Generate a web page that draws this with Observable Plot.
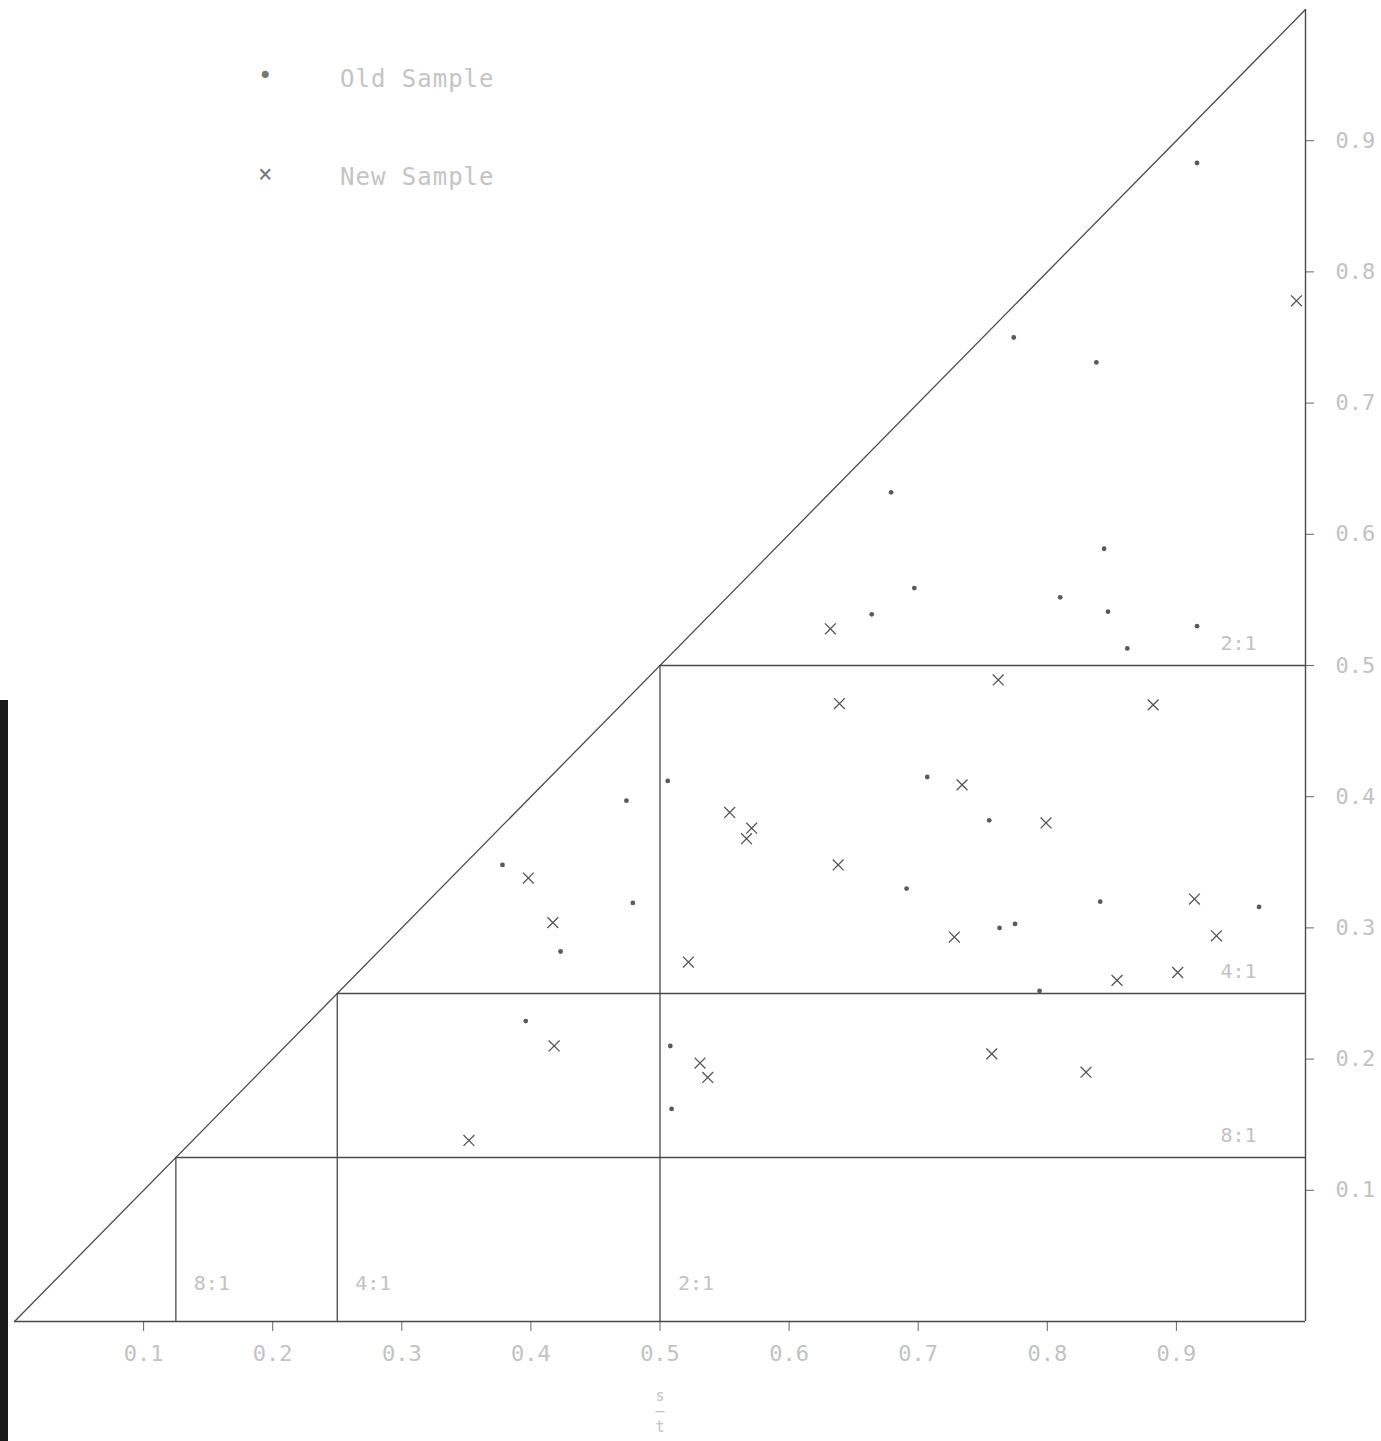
<!DOCTYPE html>
<html>
<head>
<meta charset="utf-8">
<script src="https://cdn.jsdelivr.net/npm/d3@7"></script>
<script src="https://cdn.jsdelivr.net/npm/@observablehq/plot@0.6"></script>
<style>
  html, body { margin: 0; padding: 0; background: #fff; }
  #wrap { position: relative; width: 1381px; height: 1441px; overflow: hidden; }
  .leg { position: absolute; font-family: "DejaVu Sans Mono", monospace; font-size: 24px; color: #c4c4c4; letter-spacing: 1px; }
  .scan { position: absolute; left: 0; top: 700px; width: 8px; height: 741px; background: #1a1a1a; }
</style>
</head>
<body>
<div id="wrap">
  <div class="scan"></div>
</div>
<script>
// ---- data ----
const oldX = [0.916, 0.774, 0.838, 0.679, 0.844, 0.697, 0.810, 0.664, 0.847, 0.916, 0.862,
              0.506, 0.474, 0.707, 0.755, 0.378, 0.691, 0.479, 0.841, 0.964, 0.423,
              0.763, 0.775, 0.794, 0.396, 0.508, 0.509];
const oldY = [0.883, 0.750, 0.731, 0.632, 0.589, 0.559, 0.552, 0.539, 0.541, 0.530, 0.513,
              0.412, 0.397, 0.415, 0.382, 0.348, 0.330, 0.319, 0.320, 0.316, 0.282,
              0.300, 0.303, 0.252, 0.229, 0.210, 0.162];
const newX = [0.993, 0.632, 0.639, 0.762, 0.882, 0.554, 0.571, 0.567, 0.734, 0.799, 0.638,
              0.398, 0.417, 0.728, 0.914, 0.931, 0.522, 0.854, 0.901, 0.418, 0.531,
              0.537, 0.757, 0.830, 0.352];
const newY = [0.778, 0.528, 0.471, 0.489, 0.470, 0.388, 0.376, 0.368, 0.409, 0.380, 0.348,
              0.338, 0.304, 0.293, 0.322, 0.294, 0.274, 0.260, 0.266, 0.210, 0.197,
              0.186, 0.204, 0.190, 0.138];
const cuts = [0.5, 0.25, 0.125];
const cutLabels = ["2:1", "4:1", "8:1"];
const xTicks = [0.1, 0.2, 0.3, 0.4, 0.5, 0.6, 0.7, 0.8, 0.9];
const yTicks = [0.1, 0.2, 0.3, 0.4, 0.5, 0.6, 0.7, 0.8, 0.9];
const legendLabels = ["Old Sample", "New Sample"];
const axisFrac = "s\n\u2013\nt";
const unit = [0, 1];

const oldData = oldX.map((x, i) => ({x, y: oldY[i]}));
const newData = newX.map((x, i) => ({x, y: newY[i]}));

const lineColor = "#4a4a4a";
const faint = "#c2c2c2";

const chart = Plot.plot({
  width: 1381,
  height: 1441,
  marginLeft: 14,
  marginRight: 76,
  marginTop: 9,
  marginBottom: 120,
  x: {domain: [0, 1]},
  y: {domain: [0, 1]},
  style: {background: "transparent", fontFamily: "DejaVu Sans Mono, monospace"},
  marks: [
    Plot.axisX({ticks: xTicks, tickSize: 10, tickPadding: 14, tickFormat: d => d.toFixed(1),
                fontSize: 22, stroke: "#666", fill: faint, label: null}),
    Plot.axisY({anchor: "right", ticks: yTicks, tickSize: 8, tickPadding: 22, tickFormat: d => d.toFixed(1),
                fontSize: 22, stroke: "#666", fill: faint, textAnchor: "start", label: null}),
    // frame lines: bottom and right
    Plot.ruleY([0], {x1: 0, x2: 1, stroke: lineColor, strokeWidth: 1.4}),
    Plot.ruleX([1], {y1: 0, y2: 1, stroke: lineColor, strokeWidth: 1.4}),
    // diagonal y = x
    Plot.line(unit, {x: d => d, y: d => d, stroke: lineColor, strokeWidth: 1.3}),
    // horizontal and vertical cut lines
    Plot.ruleY(cuts, {y: d => d, x1: d => d, x2: 1, stroke: lineColor, strokeWidth: 1.3}),
    Plot.ruleX(cuts, {x: d => d, y1: 0, y2: d => d, stroke: lineColor, strokeWidth: 1.3}),
    // ratio labels
    Plot.text(cuts, {x: 1, y: d => d, text: (d, i) => cutLabels[i], dx: -67, dy: -22,
                     fontSize: 20, fill: faint, textAnchor: "middle"}),
    Plot.text(cuts, {x: d => d, y: 0, text: (d, i) => cutLabels[i], dx: 36, dy: -38,
                     fontSize: 20, fill: faint, textAnchor: "middle"}),
    // axis fraction label (stacked)
    Plot.text([0.5], {x: d => d, y: 0, text: () => axisFrac, dy: 68, lineAnchor: "top",
                      lineHeight: 1.05, fontSize: 15, fill: faint}),
    // data
    Plot.dot(oldData, {x: "x", y: "y", r: 2.4, fill: "#5a5a5a", stroke: "none"}),
    Plot.dot(newData, {x: "x", y: "y", symbol: "times", r: 5, stroke: "#555", strokeWidth: 1.3})
  ]
});
chart.style.position = "absolute";
chart.style.left = "0px";
chart.style.top = "0px";
const wrap = document.getElementById("wrap");
wrap.appendChild(chart);

// legend (HTML, above the plot)
const legend = [
  {label: legendLabels[0], sym: "\u2022", top: 62},
  {label: legendLabels[1], sym: "\u00d7", top: 160}
];
for (const l of legend) {
  const s = document.createElement("div");
  s.className = "leg";
  s.style.left = "258px";
  s.style.top = l.top + "px";
  s.style.color = "#777";
  s.textContent = l.sym;
  wrap.appendChild(s);
  const t = document.createElement("div");
  t.className = "leg";
  t.style.left = "340px";
  t.style.top = (l.top + 3) + "px";
  t.textContent = l.label;
  wrap.appendChild(t);
}
</script>
</body>
</html>
